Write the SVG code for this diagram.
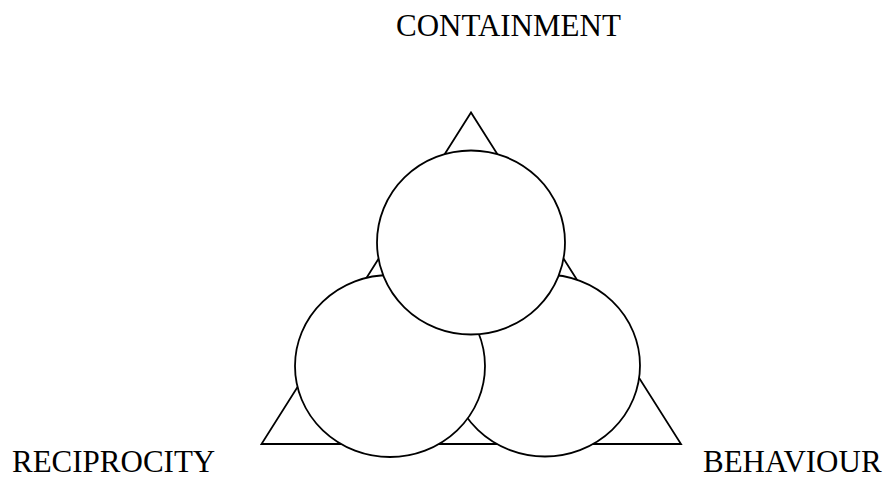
<svg xmlns="http://www.w3.org/2000/svg" width="889" height="479" viewBox="0 0 889 479">
<style>
.s{fill:#fff;stroke:#000;stroke-width:1.8}
.t{font-family:"Liberation Serif","Times New Roman",serif;font-size:31px;fill:#000}
</style>
<rect width="889" height="479" fill="#fff"/>
<g id="triangle"><polygon class="s" points="471,112.5 261.5,444 681,444"/></g>
<g id="connectors"></g>
<g id="circle-behaviour"><ellipse class="s" cx="545" cy="365.5" rx="95" ry="91"/></g>
<g id="circle-reciprocity"><ellipse class="s" cx="390" cy="366" rx="95" ry="91"/></g>
<g id="circle-containment"><ellipse class="s" cx="471" cy="242.5" rx="94" ry="92"/></g>
<g id="label-containment"><text class="t" x="396" y="35.5">CONTAINMENT</text></g>
<g id="label-reciprocity"><text class="t" x="12" y="472">RECIPROCITY</text></g>
<g id="label-behaviour"><text class="t" x="703" y="472">BEHAVIOUR</text></g>
</svg>
